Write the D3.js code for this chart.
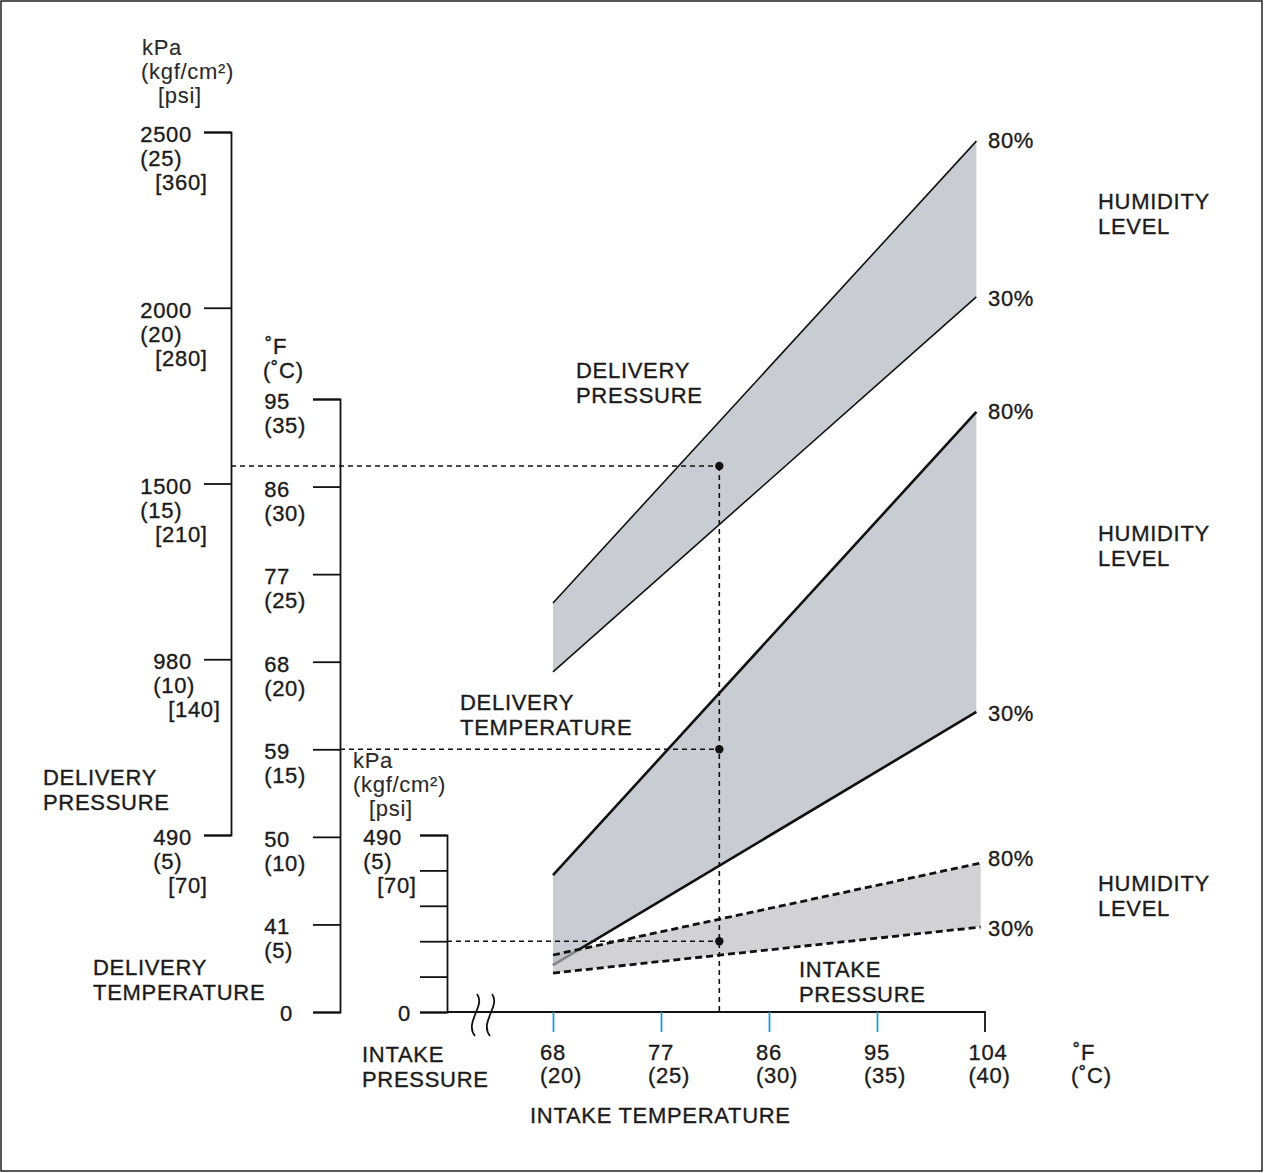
<!DOCTYPE html>
<html>
<head>
<meta charset="utf-8">
<script src="https://cdn.jsdelivr.net/npm/d3@7"></script>
<style>
  html, body { margin: 0; padding: 0; background: #fff; }
  svg text { font-family: "Liberation Sans", Arial, sans-serif; font-size: 22px; letter-spacing: 0.7px; fill: #1b1b1b; stroke: #1b1b1b; stroke-width: 0.35px; }
</style>
</head>
<body>
<svg id="chart" width="1264" height="1173"></svg>
<script>
// ---- Scale tick values ----
const delPressureKgf = [5, 10, 15, 20, 25];
const delPressureKpa = ["490", "980", "1500", "2000", "2500"];
const delPressurePsi = ["70", "140", "210", "280", "360"];

const delTempC = [0, 5, 10, 15, 20, 25, 30, 35];
const delTempF = ["0", "41", "50", "59", "68", "77", "86", "95"];

const intPressureKgf = [0, 1, 2, 3, 4, 5];

const intTempC = [20, 25, 30, 35, 40];
const intTempF = ["68", "77", "86", "95", "104"];

// ---- Humidity bands (value at start / end intake temperature, °C) ----
const humidityLevels = ["80%", "30%"];
const bandTempDelivery = [20, 39.6];
const bandTempIntake = [20, 39.8];
const delPressure80 = [11.6, 24.74];   // kgf/cm²
const delPressure30 = [9.64, 20.31];
const delTemp80 = [7.82, 34.26];       // °C
const delTemp30 = [2.68, 17.13];
const intPressure80 = [1.61, 4.21];    // kgf/cm²
const intPressure30 = [1.10, 2.40];

// ---- Example reading ----
const readIntakeTemp = 27.7;
const readDelPressure = 15.5;
const readDelTemp = 15;
const readIntPressure = 2;

const svg = d3.select("#chart");
const W = 1264, H = 1173;

svg.append("rect").attr("x", 1).attr("y", 1).attr("width", W - 3).attr("height", H - 3)
  .attr("fill", "#fff").attr("stroke", "#222").attr("stroke-width", 1.5);

// Scales
const x = d3.scaleLinear().domain([20, 40]).range([553, 985]);
const yP = d3.scaleLinear().domain([5, 25]).range([835, 132]);
const yT = d3.scaleLinear().domain([0, 35]).range([1012, 399]);
const yI = d3.scaleLinear().domain([0, 5]).range([1012, 835]);

const axP = 231, axT = 340, axI = 447, TICK = 27;

// Band drawing
function band(temps, hi, lo, yScale) {
  const pts = temps.map((t, i) => ({ t, hi: hi[i], lo: lo[i] }));
  return { area: d3.area().x(d => x(d.t)).y0(d => yScale(d.lo)).y1(d => yScale(d.hi))(pts),
           hiLine: d3.line().x(d => x(d.t)).y(d => yScale(d.hi))(pts),
           loLine: d3.line().x(d => x(d.t)).y(d => yScale(d.lo))(pts) };
}

const bP = band(bandTempDelivery, delPressure80, delPressure30, yP);
const bT = band(bandTempDelivery, delTemp80, delTemp30, yT);
const bI = band(bandTempIntake, intPressure80, intPressure30, yI);

const g = svg.append("g");
g.append("path").attr("d", bP.area).attr("fill", "#c9ccd3");
g.append("path").attr("d", bP.hiLine).attr("stroke", "#111").attr("stroke-width", 1.6).attr("fill", "none");
g.append("path").attr("d", bP.loLine).attr("stroke", "#111").attr("stroke-width", 1.6).attr("fill", "none");

g.append("path").attr("d", bT.area).attr("fill", "#c9ccd3");
g.append("path").attr("d", bT.hiLine).attr("stroke", "#111").attr("stroke-width", 2.6).attr("fill", "none");
g.append("path").attr("d", bT.loLine).attr("stroke", "#111").attr("stroke-width", 2.6).attr("fill", "none");

g.append("path").attr("d", bI.area).attr("fill", "rgb(188,188,192)").attr("fill-opacity", 0.68);
g.append("path").attr("d", bI.hiLine).attr("stroke", "#111").attr("stroke-width", 2.8).attr("stroke-dasharray", "7,4").attr("fill", "none");
g.append("path").attr("d", bI.loLine).attr("stroke", "#111").attr("stroke-width", 2.8).attr("stroke-dasharray", "7,4").attr("fill", "none");

// Axes (bracket style: domain with outer ticks)
function bracket(scale, xPos, vals) {
  const a = d3.axisLeft(scale).tickValues(vals).tickSize(TICK).tickSizeOuter(TICK).tickFormat("");
  const ag = svg.append("g").attr("transform", `translate(${xPos},0)`).call(a);
  ag.selectAll("path, line").attr("stroke", "#111").attr("stroke-width", 1.8);
  return ag;
}
bracket(yP, axP, delPressureKgf);
bracket(yT, axT, delTempC);
bracket(yI, axI, intPressureKgf);

// Multi-line tick labels: first line right aligned, others aligned to its left edge
function stackLabel(lines, rightX, baseY, indent3) {
  const t0 = svg.append("text").attr("x", rightX).attr("y", baseY).attr("text-anchor", "end").text(lines[0]);
  const left = rightX - t0.node().getComputedTextLength();
  lines.slice(1).forEach((s, i) => {
    svg.append("text").attr("x", left + (i === 1 ? indent3 : 0)).attr("y", baseY + 24 * (i + 1)).text(s);
  });
}
delPressureKgf.forEach((v, i) => {
  stackLabel([delPressureKpa[i], `(${v})`, `[${delPressurePsi[i]}]`], axP - TICK - 12, yP(v) + 10, 15);
});
delTempC.forEach((v, i) => {
  if (v === 0) stackLabel([delTempF[i]], axT - TICK - 20, yT(v) + 9, 0);
  else stackLabel([delTempF[i], `(${v})`], axT - TICK - 23, yT(v) + 10, 0);
});
stackLabel(["490", "(5)", "[70]"], axI - TICK - 18, yI(5) + 10, 14);
stackLabel(["0"], axI - TICK - 9, yI(0) + 9, 0);

// Unit headings
function unitBlock(x0, y0, lines, indents) {
  lines.forEach((s, i) => svg.append("text").attr("x", x0 + indents[i]).attr("y", y0 + 24 * i)
    .style("fill", "#2a2a2a").style("stroke-width", "0.1px").text(s));
}
unitBlock(142, 55, ["kPa", "(kgf/cm²)", "[psi]"], [0, -1, 16]);
unitBlock(353, 768, ["kPa", "(kgf/cm²)", "[psi]"], [0, 0, 16]);
svg.append("text").attr("x", 265).attr("y", 354).text("˚F");
svg.append("text").attr("x", 263).attr("y", 378).text("(˚C)");

// Intake temperature axis
svg.append("path").attr("d", `M${axI},${yI(0)}H${x(40)}V${yI(0) + 20}`)
  .attr("fill", "none").attr("stroke", "#111").attr("stroke-width", 1.8);
const xa = svg.append("g").attr("transform", `translate(0,${yI(0)})`)
  .call(d3.axisBottom(x).tickValues(intTempC.slice(0, 4)).tickSize(20).tickFormat(""));
xa.select(".domain").remove();
xa.selectAll("line").attr("stroke", "#1e9bd7").attr("stroke-width", 1.8);

intTempC.forEach((v, i) => {
  const t0 = svg.append("text").attr("x", x(v) + (i === 4 ? 3 : 0)).attr("y", 1060).attr("text-anchor", "middle").text(intTempF[i]);
  const bb = t0.node().getBBox();
  svg.append("text").attr("x", bb.x).attr("y", 1083).text(`(${v})`);
});
svg.append("text").attr("x", 1073).attr("y", 1060).text("˚F");
svg.append("text").attr("x", 1071).attr("y", 1083).text("(˚C)");

// Axis break mark
[474, 489].forEach(bx => {
  svg.append("path").attr("d", `M${bx + 3},994 C${bx + 12},1006 ${bx - 10},1022 ${bx + 1},1036`)
    .attr("fill", "none").attr("stroke", "#111").attr("stroke-width", 1.8);
});

// Reading guide lines
const dash = { stroke: "#111", "stroke-width": 1.6, "stroke-dasharray": "5,4", fill: "none" };
function guide(d) {
  const p = svg.append("path").attr("d", d);
  Object.entries(dash).forEach(([k, v]) => p.attr(k, v));
}
const rx = x(readIntakeTemp);
guide(`M${axP},${yP(readDelPressure)}H${rx}`);
guide(`M${axT},${yT(readDelTemp)}H${rx}`);
guide(`M${axI},${yI(readIntPressure)}H${rx}`);
guide(`M${rx},${yP(readDelPressure)}V${yI(0)}`);
[yP(readDelPressure), yT(readDelTemp), yI(readIntPressure)].forEach(cy => {
  svg.append("circle").attr("cx", rx).attr("cy", cy).attr("r", 4.2).attr("fill", "#111");
});

// Humidity labels at band ends
[[bandTempDelivery, delPressure80, delPressure30, yP, 7],
 [bandTempDelivery, delTemp80, delTemp30, yT, 7],
 [bandTempIntake, intPressure80, intPressure30, yI, 3]].forEach(([tt, hi, lo, s, off]) => {
  svg.append("text").attr("x", 988).attr("y", s(hi[1]) + off).text(humidityLevels[0]);
  svg.append("text").attr("x", 988).attr("y", s(lo[1]) + 9).text(humidityLevels[1]);
});

// Text annotations
function twoLine(x0, y0, a, b) {
  svg.append("text").attr("x", x0).attr("y", y0).text(a);
  svg.append("text").attr("x", x0).attr("y", y0 + 25).text(b);
}
twoLine(1098, 209, "HUMIDITY", "LEVEL");
twoLine(1098, 541, "HUMIDITY", "LEVEL");
twoLine(1098, 891, "HUMIDITY", "LEVEL");
twoLine(576, 378, "DELIVERY", "PRESSURE");
twoLine(460, 710, "DELIVERY", "TEMPERATURE");
twoLine(799, 977, "INTAKE", "PRESSURE");
twoLine(43, 785, "DELIVERY", "PRESSURE");
twoLine(93, 975, "DELIVERY", "TEMPERATURE");
twoLine(362, 1062, "INTAKE", "PRESSURE");
svg.append("text").attr("x", 530).attr("y", 1123).text("INTAKE TEMPERATURE");
</script>
</body>
</html>
